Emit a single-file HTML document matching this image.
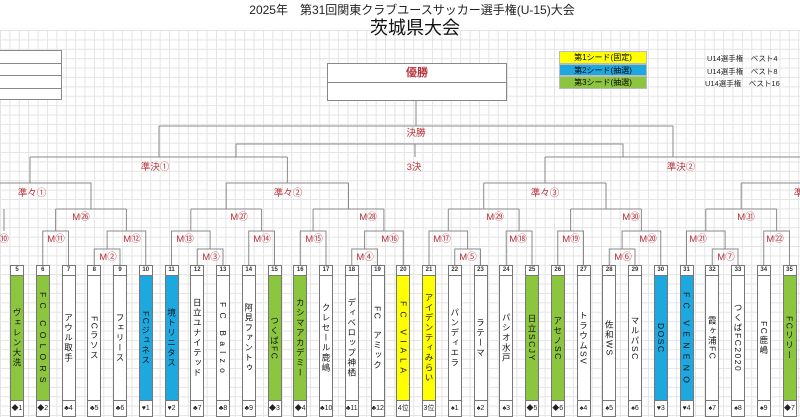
<!DOCTYPE html>
<html><head><meta charset="utf-8"><style>
*{margin:0;padding:0;box-sizing:border-box}
body{width:800px;height:417px;overflow:hidden;background:#fff;position:relative;font-family:"Liberation Sans","Noto Sans CJK JP",sans-serif}
.grid{position:absolute;left:0;top:30px;width:800px;height:387px;
background-image:linear-gradient(#e4e4e4 1px,transparent 1px),linear-gradient(90deg,#e4e4e4 1px,transparent 1px);background-size:9.4px 9.4px}
.t1{position:absolute;top:1px;left:0;width:824px;text-align:center;font-size:12px;color:#222}
.t2{position:absolute;top:14px;left:0;width:830px;text-align:center;font-size:18px;color:#111}
.lbl{position:absolute;font-size:9.5px;color:#b8323a;transform:translate(-50%,-50%);white-space:nowrap}
.team{position:absolute;top:265px;width:14px;height:152px;border:1px solid #777;background:#fff}
.team .n{height:10px;border-bottom:1px solid #777;font-size:6px;text-align:center;line-height:9px;font-weight:bold;color:#333;background:#fff}
.team .b{height:125px;border-bottom:1px solid #777;display:flex;align-items:center;justify-content:center}
.team .b span{writing-mode:vertical-rl;font-size:8.5px;color:#111;letter-spacing:1.5px}
.team .f{height:15px;font-size:7px;text-align:center;line-height:15px;color:#222;background:#fff;white-space:nowrap;overflow:hidden}
.g{background:#8cc63f!important}.bl{background:#1ea8e0!important}.y{background:#ffff00!important}
.lg{position:absolute;left:559px;width:88px;height:12.5px;font-size:8px;text-align:center;line-height:12.5px;border:1px solid #bbb}
.lt{position:absolute;left:700px;font-size:7.5px;color:#222}
</style></head><body>
<div class="grid"></div>
<div class="t1">2025年　第31回関東クラブユースサッカー選手権(U-15)大会</div>
<div class="t2">茨城県大会</div>

<div style="position:absolute;left:-1px;top:50px;width:63px;height:50px;border:1px solid #888;background:#fff">
<div style="height:12.5px;border-bottom:1px solid #888"></div><div style="height:12.5px;border-bottom:1px solid #888"></div><div style="height:12.5px;border-bottom:1px solid #888"></div></div>

<div style="position:absolute;left:327px;top:63px;width:180px;height:38px;border:1px solid #888;background:#fff">
<div style="height:19px;border-bottom:1px solid #888;text-align:center;font-size:11px;line-height:19px;color:#b8323a;font-weight:bold">優勝</div></div>

<div class="lg y" style="top:51px">第1シード(固定)</div>
<div class="lg bl" style="top:63.5px">第2シード(抽選)</div>
<div class="lg g" style="top:76px">第3シード(抽選)</div>
<div class="lt" style="top:53px;left:707px">U14選手権　ベスト4</div>
<div class="lt" style="top:65.5px;left:707px">U14選手権　ベスト8</div>
<div class="lt" style="top:78px;left:705px">U14選手権　ベスト16</div>

<svg width="800" height="417" style="position:absolute;left:0;top:0" fill="none" stroke="#8a8a8a" stroke-width="1">
<path d="M416 101V126M159 126H673M159 126V157M673 126V157"/>
<path d="M30 157H287.4M30 157V183M287.4 157V183"/>
<path d="M236 157V144H623V157M415 144V157"/>
<path d="M545 157H805M545 157V183"/>
<path d="M0 183H91V209M226.2 183H348.5M226.2 183V209M348.5 183V209"/>
<path d="M483.7 183H606M483.7 183V209M606 183V209M741.2 183H805M741.2 183V209"/>
<path d="M4 209V231"/>
<path d="M55.6 209H126.4M55.6 209V231M126.4 209V231"/>
<path d="M190.8 209H261.6M190.8 209V231M261.6 209V231"/>
<path d="M313.1 209H383.9M313.1 209V231M383.9 209V231"/>
<path d="M448.3 209H519.1M448.3 209V231M519.1 209V231"/>
<path d="M570.6 209H641.4M570.6 209V231M641.4 209V231"/>
<path d="M705.8 209H776.6M705.8 209V231M776.6 209V231"/>
<path d="M42.75 265V231H68.5V265"/>
<path d="M107.1 249V231H145.75V265"/>
<path d="M94.25 265V249H120V265"/>
<path d="M171.5 265V231H210.1V249"/>
<path d="M197.25 265V249H223V265"/>
<path d="M248.75 265V231H274.5V265"/>
<path d="M300.25 265V231H326V265"/>
<path d="M364.6 249V231H403.25V265"/>
<path d="M351.75 265V249H377.5V265"/>
<path d="M429 265V231H467.6V249"/>
<path d="M454.75 265V249H480.5V265"/>
<path d="M506.25 265V231H532V265"/>
<path d="M557.75 265V231H583.5V265"/>
<path d="M622.1 249V231H660.75V265"/>
<path d="M609.25 265V249H635V265"/>
<path d="M686.5 265V231H725.1V249"/>
<path d="M712.25 265V249H738V265"/>
<path d="M763.75 265V231H789.5V265"/>
</svg>

<div class="lbl" style="left:416px;top:132px">決勝</div>
<div class="lbl" style="left:155px;top:166px">準決①</div>
<div class="lbl" style="left:414px;top:166px">3決</div>
<div class="lbl" style="left:681px;top:166px">準決②</div>
<div class="lbl" style="left:32px;top:192px">準々①</div>
<div class="lbl" style="left:288px;top:192px">準々②</div>
<div class="lbl" style="left:545px;top:192px">準々③</div>
<div class="lbl" style="left:808px;top:192px">準々④</div>
<div class="lbl" style="left:81px;top:216px">M㉖</div>
<div class="lbl" style="left:239px;top:216px">M㉗</div>
<div class="lbl" style="left:368px;top:216px">M㉘</div>
<div class="lbl" style="left:495px;top:216px">M㉙</div>
<div class="lbl" style="left:631px;top:216px">M㉚</div>
<div class="lbl" style="left:746px;top:216px">M㉛</div>
<div class="lbl" style="left:0px;top:238px">M⑩</div>
<div class="lbl" style="left:56px;top:238px">M⑪</div>
<div class="lbl" style="left:132px;top:238px">M⑫</div>
<div class="lbl" style="left:185px;top:238px">M⑬</div>
<div class="lbl" style="left:262px;top:238px">M⑭</div>
<div class="lbl" style="left:314px;top:238px">M⑮</div>
<div class="lbl" style="left:390px;top:238px">M⑯</div>
<div class="lbl" style="left:442px;top:238px">M⑰</div>
<div class="lbl" style="left:518px;top:238px">M⑱</div>
<div class="lbl" style="left:571px;top:238px">M⑲</div>
<div class="lbl" style="left:648px;top:238px">M⑳</div>
<div class="lbl" style="left:698px;top:238px">M㉑</div>
<div class="lbl" style="left:775px;top:238px">M㉒</div>
<div class="lbl" style="left:108px;top:256px">M②</div>
<div class="lbl" style="left:211px;top:256px">M③</div>
<div class="lbl" style="left:365px;top:256px">M④</div>
<div class="lbl" style="left:468px;top:256px">M⑤</div>
<div class="lbl" style="left:623px;top:256px">M⑥</div>
<div class="lbl" style="left:726px;top:256px">M⑦</div>

<div class="team" style="left:10px"><div class="n">5</div><div class="b g"><span>ヴェレン大洗</span></div><div class="f">◆1</div></div>
<div class="team" style="left:35.75px"><div class="n">6</div><div class="b g"><span>F C　C O L O R S</span></div><div class="f">◆2</div></div>
<div class="team" style="left:61.5px"><div class="n">7</div><div class="b"><span>アウル取手</span></div><div class="f">♣4</div></div>
<div class="team" style="left:87.25px"><div class="n">8</div><div class="b"><span>FCラソス</span></div><div class="f">♣5</div></div>
<div class="team" style="left:113px"><div class="n">9</div><div class="b"><span>フェリース</span></div><div class="f">♣6</div></div>
<div class="team" style="left:138.75px"><div class="n">10</div><div class="b bl"><span>FCジュネス</span></div><div class="f">♥1</div></div>
<div class="team" style="left:164.5px"><div class="n">11</div><div class="b bl"><span>境トリニタス</span></div><div class="f">♥2</div></div>
<div class="team" style="left:190.25px"><div class="n">12</div><div class="b"><span>日立ユナイテッド</span></div><div class="f">♣7</div></div>
<div class="team" style="left:216px"><div class="n">13</div><div class="b"><span>F C　B a l z o</span></div><div class="f">♣8</div></div>
<div class="team" style="left:241.75px"><div class="n">14</div><div class="b"><span>阿見ファントゥ</span></div><div class="f">♣9</div></div>
<div class="team" style="left:267.5px"><div class="n">15</div><div class="b g"><span>つくばFC</span></div><div class="f">◆3</div></div>
<div class="team" style="left:293.25px"><div class="n">16</div><div class="b g"><span>カシマアカデミー</span></div><div class="f">◆4</div></div>
<div class="team" style="left:319px"><div class="n">17</div><div class="b"><span>クレセール鹿嶋</span></div><div class="f">♣10</div></div>
<div class="team" style="left:344.75px"><div class="n">18</div><div class="b"><span>ディベロップ神栖</span></div><div class="f">♣11</div></div>
<div class="team" style="left:370.5px"><div class="n">19</div><div class="b"><span>FC　アミック</span></div><div class="f">♣12</div></div>
<div class="team" style="left:396.25px"><div class="n">20</div><div class="b y"><span>F C　V I A L A</span></div><div class="f">4位</div></div>
<div class="team" style="left:422px"><div class="n">21</div><div class="b y"><span>アイデンティみらい</span></div><div class="f">3位</div></div>
<div class="team" style="left:447.75px"><div class="n">22</div><div class="b"><span>パンディエラ</span></div><div class="f">♠1</div></div>
<div class="team" style="left:473.5px"><div class="n">23</div><div class="b"><span>ラテーマ</span></div><div class="f">♠2</div></div>
<div class="team" style="left:499.25px"><div class="n">24</div><div class="b"><span>パシオ水戸</span></div><div class="f">♠3</div></div>
<div class="team" style="left:525px"><div class="n">25</div><div class="b g"><span>日立SCJY</span></div><div class="f">◆5</div></div>
<div class="team" style="left:550.75px"><div class="n">26</div><div class="b g"><span>アセノSC</span></div><div class="f">◆6</div></div>
<div class="team" style="left:576.5px"><div class="n">27</div><div class="b"><span>トラウムSV</span></div><div class="f">♠4</div></div>
<div class="team" style="left:602.25px"><div class="n">28</div><div class="b"><span>佐和WS</span></div><div class="f">♠5</div></div>
<div class="team" style="left:628px"><div class="n">29</div><div class="b"><span>マルパSC</span></div><div class="f">♠6</div></div>
<div class="team" style="left:653.75px"><div class="n">30</div><div class="b bl"><span>DOSC</span></div><div class="f">♥3</div></div>
<div class="team" style="left:679.5px"><div class="n">31</div><div class="b bl"><span>F C　V E N E N O</span></div><div class="f">♥4</div></div>
<div class="team" style="left:705.25px"><div class="n">32</div><div class="b"><span>霞ヶ浦FC</span></div><div class="f">♠7</div></div>
<div class="team" style="left:731px"><div class="n">33</div><div class="b"><span>つくばFC2020</span></div><div class="f">♠8</div></div>
<div class="team" style="left:756.75px"><div class="n">34</div><div class="b"><span>FC鹿嶋</span></div><div class="f">♠9</div></div>
<div class="team" style="left:782.5px"><div class="n">35</div><div class="b g"><span>FCリリー</span></div><div class="f">◆7</div></div>
</body></html>
